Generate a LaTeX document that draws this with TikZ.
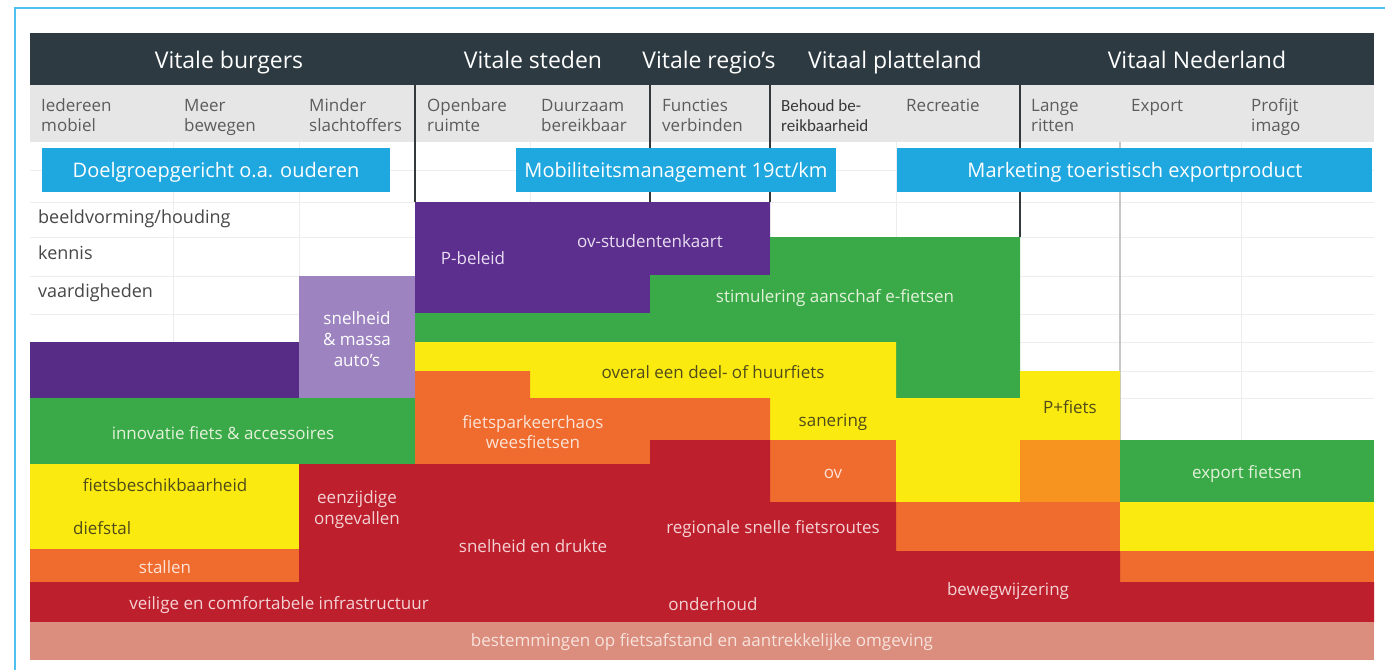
\documentclass[tikz,border=0pt]{standalone}
\usepackage{fontspec}
\setmainfont{Open Sans}
\newfontfamily\narrowfont{Carlito}
\definecolor{frameblue}{HTML}{4EC1EE}
\definecolor{hdrdark}{HTML}{2D3A41}
\definecolor{subbg}{HTML}{E6E6E6}
\definecolor{subtxt}{HTML}{5C5C5C}
\definecolor{rowtxt}{HTML}{474747}
\definecolor{gridc}{HTML}{EDEDED}
\definecolor{sepc}{HTML}{34393C}
\definecolor{skyblue}{HTML}{1FA7E0}
\definecolor{purpleD}{HTML}{5C2E8E}
\definecolor{purpleL}{HTML}{9D84C1}
\definecolor{greenB}{HTML}{3AAA48}
\definecolor{yellowB}{HTML}{FBEA10}
\definecolor{orangeB}{HTML}{EF6B2E}
\definecolor{orangeL}{HTML}{F7931F}
\definecolor{redB}{HTML}{BE1F2D}
\definecolor{salmon}{HTML}{DB8D7E}
\definecolor{txtY}{HTML}{4F4B1A}
\definecolor{txtG}{HTML}{E3F1DA}
\definecolor{txtR}{HTML}{F4D2D4}
\definecolor{txtO}{HTML}{FCE3D6}
\definecolor{txtP}{HTML}{E8DDF1}
\definecolor{txtS}{HTML}{F8E3DC}
\begin{document}
\begin{tikzpicture}[x=1pt,y=-1pt,
  lbl/.style={inner sep=0pt, anchor=base},
  hdr/.style={lbl, text=white, font=\fontsize{23}{27}\selectfont},
  sub/.style={inner sep=0pt, anchor=base west, text=subtxt, font=\fontsize{17}{20}\selectfont},
  rowlbl/.style={inner sep=0pt, anchor=base west, text=rowtxt, font=\fontsize{18}{21}\selectfont},
  bluebox/.style={fill=skyblue, draw=none, text=white, inner sep=0pt, anchor=base,
    font=\fontsize{20}{24}\selectfont},
  blk/.style={lbl, font=\fontsize{17}{21}\selectfont},
  gridline/.style={draw=gridc, line width=1pt},
  sepline/.style={draw=sepc, line width=2.4pt}]

% canvas and outer frame
\fill[white] (0,0) rectangle (1385,670);
\useasboundingbox (0,0) rectangle (1385,670);
\draw[frameblue, line width=2pt] (15,670) -- (15,8) -- (1385,8);

% title bar and sub-header band
\fill[hdrdark] (30,33) rectangle (1374,85);
\fill[subbg] (30,85) rectangle (1374,142);

% faint table grid
\foreach \gx in {173,299,530,650,896,1241}
  \draw[gridline] (\gx,142) -- (\gx,622);
\foreach \gy in {170,202,237,276,314,342,371,398,440}
  \draw[gridline] (30,\gy) -- (1374,\gy);
\draw[draw=black!22, line width=1.4pt] (1120,142) -- (1120,440);

% theme separators
\draw[sepline] (415,85) -- (415,202);
\draw[sepline] (650,85) -- (650,202);
\draw[sepline] (770,85) -- (770,202);
\draw[sepline] (1020,85) -- (1020,237);

% cross-cutting campaigns
\fill[skyblue] (42,148) rectangle (390,192);
\fill[skyblue] (516,148) rectangle (836,192);
\fill[skyblue] (897,148) rectangle (1372,192);

% coloured measure blocks
\fill[purpleD] (415,202) -- (770,202) -- (770,275) -- (650,275) -- (650,313) -- (415,313) -- cycle;
\fill[purpleD!95!black] (30,342) rectangle (299,398);
\fill[purpleL] (299,276) rectangle (415,398);
\fill[greenB] (770,237) -- (1020,237) -- (1020,398) -- (896,398) -- (896,342)
  -- (415,342) -- (415,313) -- (650,313) -- (650,275) -- (770,275) -- cycle;
\fill[greenB] (30,398) rectangle (415,464);
\fill[greenB] (1120,440) rectangle (1374,502);
\fill[yellowB] (415,342) -- (896,342) -- (896,398) -- (1020,398) -- (1020,371)
  -- (1120,371) -- (1120,440) -- (1020,440) -- (1020,502) -- (896,502) -- (896,440)
  -- (770,440) -- (770,398) -- (530,398) -- (530,371) -- (415,371) -- cycle;
\fill[yellowB] (30,464) rectangle (299,549);
\fill[yellowB] (1120,502) rectangle (1374,551);
\fill[orangeB] (415,371) -- (530,371) -- (530,398) -- (770,398) -- (770,440)
  -- (650,440) -- (650,464) -- (415,464) -- cycle;
\fill[orangeB] (770,440) rectangle (896,502);
\fill[orangeL] (1020,440) rectangle (1120,502);
\fill[orangeB] (896,502) rectangle (1120,551);
\fill[orangeB] (30,549) rectangle (299,582);
\fill[orangeB] (1120,551) rectangle (1374,582);
\fill[redB] (30,582) -- (299,582) -- (299,464) -- (650,464) -- (650,440) -- (770,440)
  -- (770,502) -- (896,502) -- (896,551) -- (1120,551) -- (1120,582) -- (1374,582)
  -- (1374,622) -- (30,622) -- cycle;
\fill[salmon] (30,622) rectangle (1374,660);

% title bar labels
\node[hdr] (h1) at (229,68) {Vitale burgers};
\node[hdr] (h2) at (533,68) {Vitale steden};
\node[hdr] (h3) at (709,68) {Vitale regio’s};
\node[hdr] (h4) at (895,68) {Vitaal platteland};
\node[hdr] (h5) at (1197,68) {Vitaal Nederland};

% sub-header labels
\foreach \sx/\la/\lb [count=\i] in {41/Iedereen/mobiel, 184/Meer/bewegen,
    309/Minder/slachtoffers, 427/Openbare/ruimte, 541/Duurzaam/bereikbaar,
    662/Functies/verbinden, 1031/Lange/ritten, 1251/Profijt/imago} {
  \node[sub] (sa\i) at (\sx,111) {\la};
  \node[sub] (sb\i) at (\sx,131) {\lb};
}
\node[sub, text=black!78, font=\narrowfont\fontsize{17}{20}\selectfont] (bh1) at (781,111) {Behoud be-};
\node[sub, text=black!78, font=\narrowfont\fontsize{17}{20}\selectfont] (bh2) at (781,131) {reikbaarheid};
\node[sub] (rec) at (906,111) {Recreatie};
\node[sub] (exp) at (1131,111) {Export};

% campaign labels
\node[bluebox] (c1) at (216,177) {Doelgroepgericht o.a. ouderen};
\node[bluebox] (c2) at (676,177) {Mobiliteitsmanagement 19ct/km};
\node[bluebox] (c3) at (1135,177) {Marketing toeristisch exportproduct};

% row labels
\node[rowlbl] (r1) at (38,223) {beeldvorming/houding};
\node[rowlbl] (r2) at (38,259) {kennis};
\node[rowlbl] (r3) at (38,297) {vaardigheden};

% block labels
\node[blk, text=txtP] (pbel) at (473,264) {P-beleid};
\node[blk, text=txtP] (ovst) at (650,247) {ov-studentenkaart};
\node[blk, text=txtG] (stim) at (835,302) {stimulering aanschaf e-fietsen};
\node[blk, text=white] (sm1) at (357,324) {snelheid};
\node[blk, text=white] (sm2) at (357,345) {\& massa};
\node[blk, text=white] (sm3) at (357,366) {auto’s};
\node[blk, text=txtY] (deel) at (713,378) {overal een deel- of huurfiets};
\node[blk, text=txtG] (inno) at (223,439) {innovatie fiets \& accessoires};
\node[blk, text=txtO] (fpc1) at (533,428) {fietsparkeerchaos};
\node[blk, text=txtO] (fpc2) at (533,448) {weesfietsen};
\node[blk, text=txtY] (san) at (833,426) {sanering};
\node[blk, text=txtY] (pf) at (1070,413) {P+fiets};
\node[blk, text=txtO] (ov) at (833,478) {ov};
\node[blk, text=txtG] (expf) at (1247,478) {export fietsen};
\node[blk, text=txtY] (fb) at (165,491) {fietsbeschikbaarheid};
\node[blk, text=txtY, anchor=base west] (dief) at (73,534) {diefstal};
\node[blk, text=txtR] (ez1) at (357,503) {eenzijdige};
\node[blk, text=txtR] (ez2) at (357,524) {ongevallen};
\node[blk, text=txtO] (stal) at (165,573) {stallen};
\node[blk, text=txtR] (sned) at (533,552) {snelheid en drukte};
\node[blk, text=txtR] (reg) at (773,533) {regionale snelle fietsroutes};
\node[blk, text=txtR] (infra) at (279,609) {veilige en comfortabele infrastructuur};
\node[blk, text=txtR] (ond) at (713,610) {onderhoud};
\node[blk, text=txtR] (beweg) at (1008,595) {bewegwijzering};
\node[blk, text=txtS] (best) at (702,646) {bestemmingen op fietsafstand en aantrekkelijke omgeving};
\end{tikzpicture}
\end{document}
